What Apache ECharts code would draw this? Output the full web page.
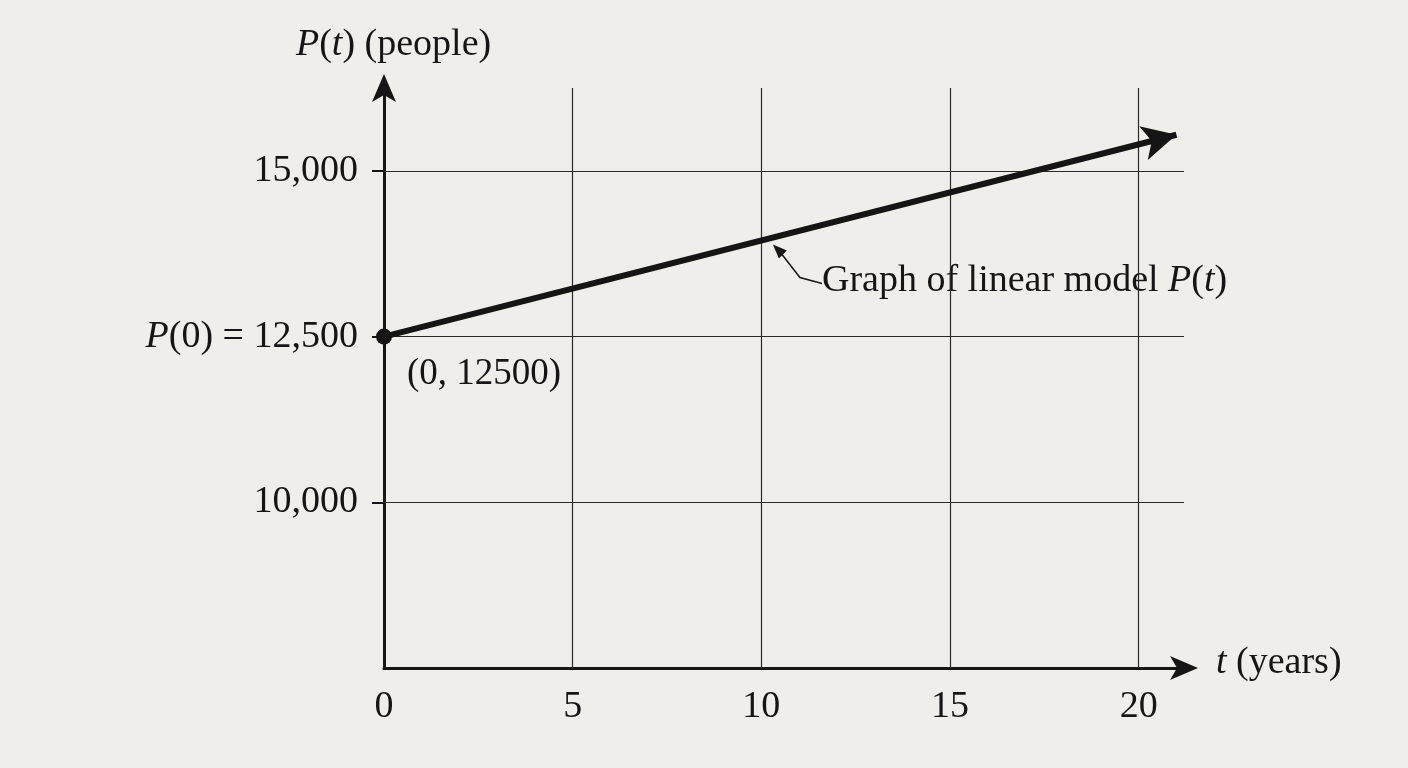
<!DOCTYPE html>
<html>
<head>
<meta charset="utf-8">
<script src="https://cdn.jsdelivr.net/npm/echarts@6/dist/echarts.min.js"></script>
<style>
  html, body { margin: 0; padding: 0; background: #efeeea; }
  #chart { width: 1408px; height: 768px; }
</style>
</head>
<body>
<div id="chart"></div>
<script>
  // data
  var years = [0, 21]
  var people = [12500, 15545]
  var xTicks = [0, 5, 10, 15, 20]
  var yTickVals = [10000, 12500, 15000]
  var yTicks = { 10000: '10,000', 12500: '{i|P}(0) = 12,500', 15000: '15,000' }

  var serif = '"Liberation Serif", "DejaVu Serif", serif'
  var ink = '#151515'
  var xMax = 21.2, yMin = 7500, yMax = 16250

  var chart = echarts.init(document.getElementById('chart'))

  var gridLines = []
  xTicks.slice(1).forEach(function(v) {
    gridLines.push([{ coord: [v, yMin] }, { coord: [v, yMax] }])
  })
  yTickVals.forEach(function(v) {
    gridLines.push([{ coord: [0, v] }, { coord: [xMax, v] }])
  })

  var option = {
    backgroundColor: '#efeeea',
    animation: false,
    textStyle: { fontFamily: serif },
    grid: { left: 384, right: 224, top: 88, bottom: 100 },
    xAxis: {
      type: 'value',
      min: 0,
      max: xMax,
      interval: 5,
      axisLine: { lineStyle: { color: ink, width: 3 }, symbol: ['none', 'arrow'], symbolSize: [18, 28], symbolOffset: [0, 14] },
      axisTick: { show: false },
      splitLine: { show: false },
      axisLabel: {
        color: ink, fontSize: 38, fontFamily: serif, margin: 20,
        formatter: function(v) { return xTicks.indexOf(v) >= 0 ? String(v) : '' }
      }
    },
    yAxis: {
      type: 'value',
      min: yMin,
      max: yMax,
      interval: 2500,
      axisLine: { lineStyle: { color: ink, width: 3 }, symbol: ['none', 'arrow'], symbolSize: [18, 28], symbolOffset: [0, 14] },
      axisTick: { show: true, customValues: yTickVals, length: 12, lineStyle: { color: ink, width: 2 } },
      splitLine: { show: false },
      axisLabel: {
        color: ink, fontSize: 38, fontFamily: serif, margin: 26,
        formatter: function(v) { return yTicks[v] || '' },
        rich: { i: { fontStyle: 'italic', fontSize: 38, fontFamily: serif, color: ink } }
      }
    },
    series: [
      {
        type: 'line',
        data: [],
        markLine: {
          silent: true,
          symbol: ['none', 'none'],
          label: { show: false },
          lineStyle: { color: '#2a2a2a', width: 1.2, type: 'solid' },
          data: gridLines
        }
      },
      {
        type: 'line',
        data: [],
        z: 4,
        markLine: {
          silent: true,
          symbol: ['none', 'arrow'],
          symbolSize: [26, 34],
          label: { show: false },
          lineStyle: { color: ink, width: 6, type: 'solid' },
          data: [[{ coord: [years[0], people[0]] }, { coord: [years[1], people[1]] }]]
        }
      },
      {
        type: 'scatter',
        data: [[years[0], people[0]]],
        symbolSize: 16,
        itemStyle: { color: ink, opacity: 1 },
        label: {
          show: true, position: 'bottom', offset: [100, 6],
          formatter: '(0, 12500)', color: ink, fontSize: 37, fontFamily: serif
        },
        z: 5
      }
    ]
  }
  chart.setOption(option)

  // annotations placed from data coordinates
  var topPt = chart.convertToPixel('grid', [0, yMax])
  var endPt = chart.convertToPixel('grid', [xMax, yMin])
  var tip = chart.convertToPixel('grid', [10.2, 13950])
  var lbl = chart.convertToPixel('grid', [11.5, 13300])
  var rich = { i: { fontStyle: 'italic', fontSize: 38, fontFamily: serif, fill: ink } }

  chart.setOption({
    graphic: [
      {
        type: 'text', left: topPt[0] - 88, top: topPt[1] - 62,
        style: { text: '{i|P}({i|t}) (people)', fill: ink, font: '38px ' + serif, rich: rich }
      },
      {
        type: 'text', left: endPt[0] + 32, top: endPt[1] - 24,
        style: { text: '{i|t} (years)', fill: ink, font: '38px ' + serif, rich: rich }
      },
      {
        type: 'text', left: lbl[0] + 4, top: lbl[1] - 22,
        style: { text: 'Graph of linear model {i|P}({i|t})', fill: ink, font: '38px ' + serif, rich: rich }
      },
      {
        type: 'polyline',
        shape: { points: [[lbl[0] + 4, lbl[1]], [lbl[0] - 18, lbl[1] - 6], [tip[0] + 10, tip[1] + 10]] },
        style: { stroke: ink, lineWidth: 1.5, fill: null }
      },
      {
        type: 'polygon',
        shape: { points: [[tip[0] + 4, tip[1] + 4], [tip[0] + 18, tip[1] + 10], [tip[0] + 10, tip[1] + 18]] },
        style: { fill: ink }
      }
    ]
  })
</script>
</body>
</html>
